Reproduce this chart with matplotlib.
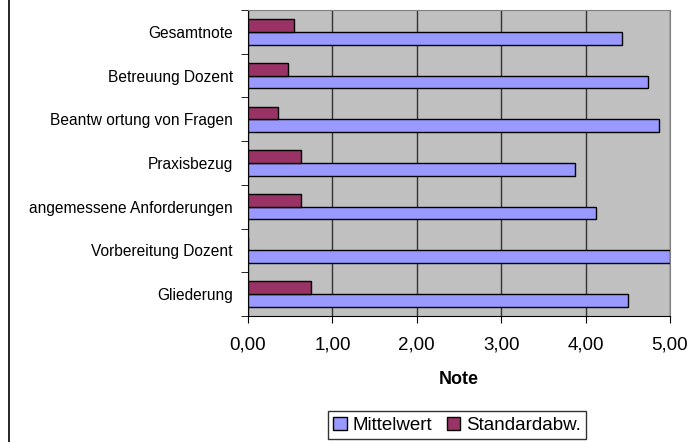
import numpy as np
import matplotlib.pyplot as plt
from matplotlib.lines import Line2D

plt.rcParams['font.family'] = ['Liberation Sans', 'DejaVu Sans']

categories = ["Gliederung", "Vorbereitung Dozent", "angemessene Anforderungen",
              "Praxisbezug", "Beantw ortung von Fragen", "Betreuung Dozent", "Gesamtnote"]
mittelwert = [4.50, 5.00, 4.12, 3.88, 4.87, 4.74, 4.43]
standardabw = [0.75, 0.00, 0.63, 0.63, 0.36, 0.47, 0.55]
xticks = [0, 1, 2, 3, 4, 5]
xtick_labels = ["0,00", "1,00", "2,00", "3,00", "4,00", "5,00"]

BLUE = "#9999FF"
MAROON = "#993366"

fig = plt.figure(figsize=(6.93, 4.42), dpi=100)
ax = fig.add_axes([248 / 693, 126 / 442, 422 / 693, 306 / 442])
ax.set_facecolor("#C0C0C0")

y = np.arange(len(categories))
h = 0.29
ax.barh(y - h / 2, mittelwert, height=h, color=BLUE, edgecolor="black", linewidth=1, label="Mittelwert", zorder=3)
ax.barh(y + h / 2, standardabw, height=h, color=MAROON, edgecolor="black", linewidth=1, label="Standardabw.", zorder=3)

ax.set_xlim(0, 5)
ax.set_ylim(-0.5, len(categories) - 0.5)
ax.set_xticks(xticks)
ax.set_xticklabels(xtick_labels, fontsize=13.5)
ax.set_yticks(y)
ax.set_yticklabels(categories, fontsize=11.2)
ax.tick_params(axis="y", length=0, pad=11)
ax.set_yticks(np.arange(-0.5, len(categories), 1), minor=True)
ax.tick_params(axis="y", which="minor", length=5, direction="out", color="black")
ax.tick_params(axis="x", length=5, direction="out", pad=10)
ax.grid(axis="x", color="#333333", linewidth=1, zorder=1)
ax.set_axisbelow(True)

for s in ["top", "right"]:
    ax.spines[s].set_color("#808080")
for s in ["left", "bottom"]:
    ax.spines[s].set_color("black")

ax.set_xlabel("Note", fontsize=13, fontweight="bold", labelpad=12)

fig.legend(loc="upper center", bbox_to_anchor=(457 / 693, 1 - 411 / 442), ncol=2, fontsize=13.5,
           frameon=True, fancybox=False, edgecolor="black", handlelength=0.7, handleheight=0.7,
           handletextpad=0.3, columnspacing=0.8, borderpad=0.3, borderaxespad=0)

fig.add_artist(Line2D([8.5 / 693, 8.5 / 693], [0, 1], color="black", linewidth=1.2))

fig.savefig("out.png", dpi=100)
